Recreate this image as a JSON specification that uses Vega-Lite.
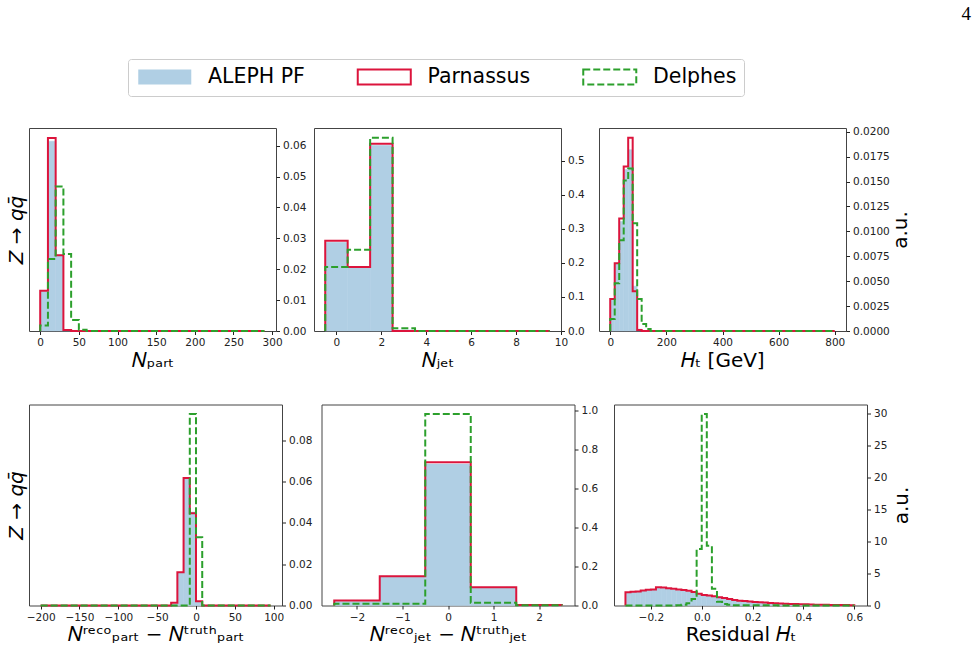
{
"$schema": "https://vega.github.io/schema/vega-lite/v6.json",
"background": "white",
"padding": {"left": 5, "top": 4, "right": 2, "bottom": 5},
"title": {"text": "4", "anchor": "end", "frame": "group", "font": "Liberation Serif", "fontSize": 19, "fontWeight": "normal", "color": "#000", "dx": 942, "offset": 35},
"datasets": {
"bars": [
{"p":1,"x":0,"x2":10,"y":0.0128},{"p":1,"x":10,"x2":20,"y":0.0614},{"p":1,"x":20,"x2":30,"y":0.0246},{"p":1,"x":30,"x2":40,"y":0.0003},
{"p":2,"x":-0.5,"x2":0.5,"y":0.26},{"p":2,"x":0.5,"x2":1.5,"y":0.188},{"p":2,"x":1.5,"x2":2.5,"y":0.545},{"p":2,"x":2.5,"x2":3.5,"y":0.003},
{"p":3,"x":0,"x2":16,"y":0.0031},{"p":3,"x":16,"x2":32,"y":0.0068},{"p":3,"x":32,"x2":48,"y":0.011},{"p":3,"x":48,"x2":64,"y":0.0162},{"p":3,"x":64,"x2":80,"y":0.0182},{"p":3,"x":80,"x2":96,"y":0.0045},{"p":3,"x":96,"x2":112,"y":0.0002},
{"p":4,"x":-32,"x2":-24,"y":0.0008},{"p":4,"x":-24,"x2":-16,"y":0.0158},{"p":4,"x":-16,"x2":-8,"y":0.0612},{"p":4,"x":-8,"x2":0,"y":0.0452},{"p":4,"x":0,"x2":8,"y":0.0018},{"p":4,"x":8,"x2":16,"y":0.0001},
{"p":5,"x":-2.5,"x2":-1.5,"y":0.02},{"p":5,"x":-1.5,"x2":-0.5,"y":0.15},{"p":5,"x":-0.5,"x2":0.5,"y":0.726},{"p":5,"x":0.5,"x2":1.5,"y":0.094},{"p":5,"x":1.5,"x2":2.5,"y":0.003},
{"p":6,"x":-0.3,"x2":-0.28,"y":2.0},{"p":6,"x":-0.28,"x2":-0.26,"y":2.1},{"p":6,"x":-0.26,"x2":-0.24,"y":2.15},{"p":6,"x":-0.24,"x2":-0.22,"y":2.3},{"p":6,"x":-0.22,"x2":-0.2,"y":2.4},{"p":6,"x":-0.2,"x2":-0.18,"y":2.45},{"p":6,"x":-0.18,"x2":-0.16,"y":2.72},{"p":6,"x":-0.16,"x2":-0.14,"y":2.68},{"p":6,"x":-0.14,"x2":-0.12,"y":2.58},{"p":6,"x":-0.12,"x2":-0.1,"y":2.45},{"p":6,"x":-0.1,"x2":-0.08,"y":2.35},{"p":6,"x":-0.08,"x2":-0.06,"y":2.25},{"p":6,"x":-0.06,"x2":-0.04,"y":2.15},{"p":6,"x":-0.04,"x2":-0.02,"y":2.0},{"p":6,"x":-0.02,"x2":0,"y":1.8},{"p":6,"x":0,"x2":0.02,"y":1.65},{"p":6,"x":0.02,"x2":0.04,"y":1.55},{"p":6,"x":0.04,"x2":0.06,"y":1.45},{"p":6,"x":0.06,"x2":0.08,"y":1.3},{"p":6,"x":0.08,"x2":0.1,"y":1.15},{"p":6,"x":0.1,"x2":0.12,"y":1.0},{"p":6,"x":0.12,"x2":0.14,"y":0.88},{"p":6,"x":0.14,"x2":0.16,"y":0.78},{"p":6,"x":0.16,"x2":0.18,"y":0.72},{"p":6,"x":0.18,"x2":0.2,"y":0.64},{"p":6,"x":0.2,"x2":0.22,"y":0.57},{"p":6,"x":0.22,"x2":0.24,"y":0.51},{"p":6,"x":0.24,"x2":0.26,"y":0.46},{"p":6,"x":0.26,"x2":0.28,"y":0.41},{"p":6,"x":0.28,"x2":0.3,"y":0.36},{"p":6,"x":0.3,"x2":0.32,"y":0.33},{"p":6,"x":0.32,"x2":0.34,"y":0.29},{"p":6,"x":0.34,"x2":0.36,"y":0.26},{"p":6,"x":0.36,"x2":0.38,"y":0.23},{"p":6,"x":0.38,"x2":0.4,"y":0.21},{"p":6,"x":0.4,"x2":0.42,"y":0.18},{"p":6,"x":0.42,"x2":0.44,"y":0.16},{"p":6,"x":0.44,"x2":0.46,"y":0.14},{"p":6,"x":0.46,"x2":0.48,"y":0.12},{"p":6,"x":0.48,"x2":0.5,"y":0.1},{"p":6,"x":0.5,"x2":0.52,"y":0.09},{"p":6,"x":0.52,"x2":0.54,"y":0.08},{"p":6,"x":0.54,"x2":0.56,"y":0.07},{"p":6,"x":0.56,"x2":0.58,"y":0.06},{"p":6,"x":0.58,"x2":0.6,"y":0.05}
],
"lines": [
{"p":1,"s":"Parnassus","x":0,"y":0},{"p":1,"s":"Parnassus","x":0,"y":0.013},{"p":1,"s":"Parnassus","x":10,"y":0.0625},{"p":1,"s":"Parnassus","x":20,"y":0.0245},{"p":1,"s":"Parnassus","x":30,"y":0.0003},{"p":1,"s":"Parnassus","x":40,"y":0},{"p":1,"s":"Parnassus","x":290,"y":0},
{"p":1,"s":"Delphes","x":0,"y":0},{"p":1,"s":"Delphes","x":0,"y":0.0018},{"p":1,"s":"Delphes","x":10,"y":0.0233},{"p":1,"s":"Delphes","x":20,"y":0.0468},{"p":1,"s":"Delphes","x":30,"y":0.0249},{"p":1,"s":"Delphes","x":40,"y":0.0036},{"p":1,"s":"Delphes","x":50,"y":0.0004},{"p":1,"s":"Delphes","x":60,"y":0},{"p":1,"s":"Delphes","x":290,"y":0},
{"p":2,"s":"Parnassus","x":-0.5,"y":0},{"p":2,"s":"Parnassus","x":-0.5,"y":0.265},{"p":2,"s":"Parnassus","x":0.5,"y":0.188},{"p":2,"s":"Parnassus","x":1.5,"y":0.549},{"p":2,"s":"Parnassus","x":2.5,"y":0},{"p":2,"s":"Parnassus","x":9.5,"y":0},
{"p":2,"s":"Delphes","x":-0.5,"y":0},{"p":2,"s":"Delphes","x":-0.5,"y":0.188},{"p":2,"s":"Delphes","x":0.5,"y":0.238},{"p":2,"s":"Delphes","x":1.5,"y":0.567},{"p":2,"s":"Delphes","x":2.5,"y":0.008},{"p":2,"s":"Delphes","x":3.5,"y":0},{"p":2,"s":"Delphes","x":9.5,"y":0},
{"p":3,"s":"Parnassus","x":0,"y":0},{"p":3,"s":"Parnassus","x":0,"y":0.0032},{"p":3,"s":"Parnassus","x":16,"y":0.0068},{"p":3,"s":"Parnassus","x":32,"y":0.0113},{"p":3,"s":"Parnassus","x":48,"y":0.0165},{"p":3,"s":"Parnassus","x":64,"y":0.0194},{"p":3,"s":"Parnassus","x":80,"y":0.004},{"p":3,"s":"Parnassus","x":96,"y":0.0001},{"p":3,"s":"Parnassus","x":112,"y":0},{"p":3,"s":"Parnassus","x":800,"y":0},
{"p":3,"s":"Delphes","x":0,"y":0},{"p":3,"s":"Delphes","x":0,"y":0.0012},{"p":3,"s":"Delphes","x":16,"y":0.0048},{"p":3,"s":"Delphes","x":32,"y":0.0091},{"p":3,"s":"Delphes","x":48,"y":0.0151},{"p":3,"s":"Delphes","x":64,"y":0.0163},{"p":3,"s":"Delphes","x":80,"y":0.0108},{"p":3,"s":"Delphes","x":96,"y":0.0032},{"p":3,"s":"Delphes","x":112,"y":0.0007},{"p":3,"s":"Delphes","x":128,"y":0.0002},{"p":3,"s":"Delphes","x":144,"y":0},{"p":3,"s":"Delphes","x":800,"y":0},
{"p":4,"s":"Parnassus","x":-200,"y":0},{"p":4,"s":"Parnassus","x":-32,"y":0.0013},{"p":4,"s":"Parnassus","x":-24,"y":0.0161},{"p":4,"s":"Parnassus","x":-16,"y":0.0617},{"p":4,"s":"Parnassus","x":-8,"y":0.0446},{"p":4,"s":"Parnassus","x":0,"y":0.0021},{"p":4,"s":"Parnassus","x":8,"y":0},{"p":4,"s":"Parnassus","x":96,"y":0},
{"p":4,"s":"Delphes","x":-200,"y":0},{"p":4,"s":"Delphes","x":-8,"y":0.0926},{"p":4,"s":"Delphes","x":0,"y":0.033},{"p":4,"s":"Delphes","x":8,"y":0},{"p":4,"s":"Delphes","x":96,"y":0},
{"p":5,"s":"Parnassus","x":-2.5,"y":0},{"p":5,"s":"Parnassus","x":-2.5,"y":0.0256},{"p":5,"s":"Parnassus","x":-1.5,"y":0.15},{"p":5,"s":"Parnassus","x":-0.5,"y":0.735},{"p":5,"s":"Parnassus","x":0.5,"y":0.094},{"p":5,"s":"Parnassus","x":1.5,"y":0.003},{"p":5,"s":"Parnassus","x":2.5,"y":0.003},{"p":5,"s":"Parnassus","x":2.5,"y":0},
{"p":5,"s":"Delphes","x":-2.5,"y":0},{"p":5,"s":"Delphes","x":-2.5,"y":0.009},{"p":5,"s":"Delphes","x":-1.5,"y":0.009},{"p":5,"s":"Delphes","x":-0.5,"y":0.983},{"p":5,"s":"Delphes","x":0.5,"y":0.014},{"p":5,"s":"Delphes","x":1.5,"y":0.001},{"p":5,"s":"Delphes","x":2.5,"y":0.001},{"p":5,"s":"Delphes","x":2.5,"y":0},
{"p":6,"s":"Parnassus","x":-0.3,"y":0},{"p":6,"s":"Parnassus","x":-0.3,"y":2.05},{"p":6,"s":"Parnassus","x":-0.28,"y":2.15},{"p":6,"s":"Parnassus","x":-0.26,"y":2.2},{"p":6,"s":"Parnassus","x":-0.24,"y":2.35},{"p":6,"s":"Parnassus","x":-0.22,"y":2.45},{"p":6,"s":"Parnassus","x":-0.2,"y":2.5},{"p":6,"s":"Parnassus","x":-0.18,"y":2.85},{"p":6,"s":"Parnassus","x":-0.16,"y":2.8},{"p":6,"s":"Parnassus","x":-0.14,"y":2.7},{"p":6,"s":"Parnassus","x":-0.12,"y":2.6},{"p":6,"s":"Parnassus","x":-0.1,"y":2.5},{"p":6,"s":"Parnassus","x":-0.08,"y":2.42},{"p":6,"s":"Parnassus","x":-0.06,"y":2.3},{"p":6,"s":"Parnassus","x":-0.04,"y":2.1},{"p":6,"s":"Parnassus","x":-0.02,"y":1.85},{"p":6,"s":"Parnassus","x":0,"y":1.65},{"p":6,"s":"Parnassus","x":0.02,"y":1.55},{"p":6,"s":"Parnassus","x":0.04,"y":1.45},{"p":6,"s":"Parnassus","x":0.06,"y":1.3},{"p":6,"s":"Parnassus","x":0.08,"y":1.15},{"p":6,"s":"Parnassus","x":0.1,"y":1.0},{"p":6,"s":"Parnassus","x":0.12,"y":0.85},{"p":6,"s":"Parnassus","x":0.14,"y":0.75},{"p":6,"s":"Parnassus","x":0.16,"y":0.7},{"p":6,"s":"Parnassus","x":0.18,"y":0.62},{"p":6,"s":"Parnassus","x":0.2,"y":0.55},{"p":6,"s":"Parnassus","x":0.22,"y":0.5},{"p":6,"s":"Parnassus","x":0.24,"y":0.45},{"p":6,"s":"Parnassus","x":0.26,"y":0.4},{"p":6,"s":"Parnassus","x":0.28,"y":0.35},{"p":6,"s":"Parnassus","x":0.3,"y":0.32},{"p":6,"s":"Parnassus","x":0.32,"y":0.28},{"p":6,"s":"Parnassus","x":0.34,"y":0.25},{"p":6,"s":"Parnassus","x":0.36,"y":0.22},{"p":6,"s":"Parnassus","x":0.38,"y":0.2},{"p":6,"s":"Parnassus","x":0.4,"y":0.18},{"p":6,"s":"Parnassus","x":0.42,"y":0.15},{"p":6,"s":"Parnassus","x":0.44,"y":0.13},{"p":6,"s":"Parnassus","x":0.46,"y":0.12},{"p":6,"s":"Parnassus","x":0.48,"y":0.1},{"p":6,"s":"Parnassus","x":0.5,"y":0.09},{"p":6,"s":"Parnassus","x":0.52,"y":0.08},{"p":6,"s":"Parnassus","x":0.54,"y":0.07},{"p":6,"s":"Parnassus","x":0.56,"y":0.06},{"p":6,"s":"Parnassus","x":0.58,"y":0.05},{"p":6,"s":"Parnassus","x":0.6,"y":0.05},{"p":6,"s":"Parnassus","x":0.6,"y":0},
{"p":6,"s":"Delphes","x":-0.3,"y":0},{"p":6,"s":"Delphes","x":-0.1,"y":0.05},{"p":6,"s":"Delphes","x":-0.08,"y":0.1},{"p":6,"s":"Delphes","x":-0.06,"y":0.35},{"p":6,"s":"Delphes","x":-0.04,"y":1.0},{"p":6,"s":"Delphes","x":-0.02,"y":8.8},{"p":6,"s":"Delphes","x":0,"y":29.85},{"p":6,"s":"Delphes","x":0.02,"y":9.3},{"p":6,"s":"Delphes","x":0.04,"y":2.6},{"p":6,"s":"Delphes","x":0.06,"y":0.6},{"p":6,"s":"Delphes","x":0.08,"y":0.25},{"p":6,"s":"Delphes","x":0.1,"y":0.1},{"p":6,"s":"Delphes","x":0.12,"y":0.05},{"p":6,"s":"Delphes","x":0.14,"y":0.02},{"p":6,"s":"Delphes","x":0.3,"y":0},{"p":6,"s":"Delphes","x":0.6,"y":0}
]
},
"spacing": 32.5,
"vconcat": [
{"spacing": 6, "hconcat": [
{"width": 247, "height": 203, "resolve": {"axis": {"y": "independent"}}, "layer": [
{"data": {"name": "bars"}, "transform": [{"filter": "datum.p == 1"}], "mark": {"type": "rect", "stroke": "#b0cfe4", "strokeWidth": 0.5},
 "encoding": {
  "x": {"field": "x", "type": "quantitative", "scale": {"domain": [-14.5, 305], "nice": false, "zero": false}, "axis": {"values": [0,50,100,150,200,250,300], "title": "𝑁ₚₐᵣₜ"}},
  "x2": {"field": "x2"},
  "y": {"field": "y", "type": "quantitative", "scale": {"domain": [0, 0.0657], "nice": false}, "axis": {"orient": "right", "values": [0,0.01,0.02,0.03,0.04,0.05,0.06], "format": ".2f", "title": null, "minExtent": 30, "maxExtent": 30}},
  "y2": {"datum": 0},
  "fill": {"datum": "ALEPH PF", "type": "nominal", "scale": {"domain": ["ALEPH PF", "Parnassus", "Delphes"], "range": ["#b0cfe4", "transparent", "transparent"]},
   "legend": {"orient": "none", "legendX": 99, "legendY": -69, "direction": "horizontal", "title": null, "symbolType": "M-1,-1H6.07V1H-1Z", "symbolSize": 225, "symbolStrokeWidth": 2, "labelFont": "DejaVu Sans", "labelFontSize": 20.5, "labelColor": "#000", "labelOffset": 52, "labelLimit": 400, "columnPadding": 47.5, "padding": 7.5, "strokeColor": "#cccccc", "fillColor": "#ffffff", "cornerRadius": 3}}
 }},
{"data": {"name": "lines"}, "transform": [{"filter": "datum.p == 1 && datum.s == 'Parnassus'"}], "mark": {"type": "line", "interpolate": "step-after", "strokeWidth": 2},
 "encoding": {
  "x": {"field": "x", "type": "quantitative", "scale": {"domain": [-14.5, 305], "nice": false, "zero": false}},
  "y": {"field": "y", "type": "quantitative", "scale": {"domain": [0, 0.0657], "nice": false}, "axis": {"orient": "left", "title": "Z → qq̄", "titleFontStyle": "italic", "labels": false, "ticks": false, "domain": false, "minExtent": 0, "maxExtent": 0, "titlePadding": 3}},
  "stroke": {"datum": "Parnassus", "type": "nominal", "scale": {"domain": ["ALEPH PF", "Parnassus", "Delphes"], "range": ["transparent", "#dc143c", "#2ca02c"]},
   "legend": {"orient": "none", "legendX": 99, "legendY": -69, "direction": "horizontal", "title": null, "symbolType": "M-1,-1H6.07V1H-1Z", "symbolSize": 225, "symbolStrokeWidth": 2, "labelFont": "DejaVu Sans", "labelFontSize": 20.5, "labelColor": "#000", "labelOffset": 52, "labelLimit": 400, "columnPadding": 47.5, "padding": 7.5, "strokeColor": "#cccccc", "fillColor": "#ffffff", "cornerRadius": 3}},
  "strokeDash": {"datum": "Parnassus", "type": "nominal", "scale": {"domain": ["ALEPH PF", "Parnassus", "Delphes"], "range": [[1,0],[1,0],[7,3]]},
   "legend": {"orient": "none", "legendX": 99, "legendY": -69, "direction": "horizontal", "title": null, "symbolType": "M-1,-1H6.07V1H-1Z", "symbolSize": 225, "symbolStrokeWidth": 2, "labelFont": "DejaVu Sans", "labelFontSize": 20.5, "labelColor": "#000", "labelOffset": 52, "labelLimit": 400, "columnPadding": 47.5, "padding": 7.5, "strokeColor": "#cccccc", "fillColor": "#ffffff", "cornerRadius": 3}},
  "order": {"value": null}
 }},
{"data": {"name": "lines"}, "transform": [{"filter": "datum.p == 1 && datum.s == 'Delphes'"}], "mark": {"type": "line", "interpolate": "step-after", "strokeWidth": 2},
 "encoding": {
  "x": {"field": "x", "type": "quantitative", "scale": {"domain": [-14.5, 305], "nice": false, "zero": false}},
  "y": {"field": "y", "type": "quantitative", "scale": {"domain": [0, 0.0657], "nice": false}, "axis": null},
  "stroke": {"datum": "Delphes", "type": "nominal", "scale": {"domain": ["ALEPH PF", "Parnassus", "Delphes"], "range": ["transparent", "#dc143c", "#2ca02c"]}},
  "strokeDash": {"datum": "Delphes", "type": "nominal", "scale": {"domain": ["ALEPH PF", "Parnassus", "Delphes"], "range": [[1,0],[1,0],[7,3]]}},
  "order": {"value": null}
 }}
]},
{"width": 247, "height": 203, "resolve": {"axis": {"y": "independent"}}, "layer": [
{"data": {"name": "bars"}, "transform": [{"filter": "datum.p == 2"}], "mark": {"type": "rect", "stroke": "#b0cfe4", "strokeWidth": 0.5},
 "encoding": {
  "x": {"field": "x", "type": "quantitative", "scale": {"domain": [-1, 10], "nice": false, "zero": false}, "axis": {"values": [0,2,4,6,8,10], "title": "𝑁ⱼₑₜ"}},
  "x2": {"field": "x2"},
  "y": {"field": "y", "type": "quantitative", "scale": {"domain": [0, 0.5954], "nice": false}, "axis": {"orient": "right", "values": [0,0.1,0.2,0.3,0.4,0.5], "format": ".1f", "title": null, "minExtent": 30, "maxExtent": 30}},
  "y2": {"datum": 0},
  "fill": {"datum": "ALEPH PF", "type": "nominal", "scale": {"domain": ["ALEPH PF", "Parnassus", "Delphes"], "range": ["#b0cfe4", "transparent", "transparent"]}}
 }},
{"data": {"name": "lines"}, "transform": [{"filter": "datum.p == 2 && datum.s == 'Parnassus'"}], "mark": {"type": "line", "interpolate": "step-after", "strokeWidth": 2},
 "encoding": {
  "x": {"field": "x", "type": "quantitative", "scale": {"domain": [-1, 10], "nice": false, "zero": false}},
  "y": {"field": "y", "type": "quantitative", "scale": {"domain": [0, 0.5954], "nice": false}, "axis": null},
  "stroke": {"datum": "Parnassus", "type": "nominal", "scale": {"domain": ["ALEPH PF", "Parnassus", "Delphes"], "range": ["transparent", "#dc143c", "#2ca02c"]}},
  "strokeDash": {"datum": "Parnassus", "type": "nominal", "scale": {"domain": ["ALEPH PF", "Parnassus", "Delphes"], "range": [[1,0],[1,0],[7,3]]}},
  "order": {"value": null}
 }},
{"data": {"name": "lines"}, "transform": [{"filter": "datum.p == 2 && datum.s == 'Delphes'"}], "mark": {"type": "line", "interpolate": "step-after", "strokeWidth": 2},
 "encoding": {
  "x": {"field": "x", "type": "quantitative", "scale": {"domain": [-1, 10], "nice": false, "zero": false}},
  "y": {"field": "y", "type": "quantitative", "scale": {"domain": [0, 0.5954], "nice": false}, "axis": null},
  "stroke": {"datum": "Delphes", "type": "nominal", "scale": {"domain": ["ALEPH PF", "Parnassus", "Delphes"], "range": ["transparent", "#dc143c", "#2ca02c"]}},
  "strokeDash": {"datum": "Delphes", "type": "nominal", "scale": {"domain": ["ALEPH PF", "Parnassus", "Delphes"], "range": [[1,0],[1,0],[7,3]]}},
  "order": {"value": null}
 }}
]},
{"width": 247, "height": 203, "resolve": {"axis": {"y": "independent"}}, "layer": [
{"data": {"name": "bars"}, "transform": [{"filter": "datum.p == 3"}], "mark": {"type": "rect", "stroke": "#b0cfe4", "strokeWidth": 0.5},
 "encoding": {
  "x": {"field": "x", "type": "quantitative", "scale": {"domain": [-40, 840], "nice": false, "zero": false}, "axis": {"values": [0,200,400,600,800], "title": "𝐻ₜ [GeV]"}},
  "x2": {"field": "x2"},
  "y": {"field": "y", "type": "quantitative", "scale": {"domain": [0, 0.02037], "nice": false}, "axis": {"orient": "right", "values": [0,0.0025,0.005,0.0075,0.01,0.0125,0.015,0.0175,0.02], "format": ".4f", "title": "a.u.", "titleAngle": 270, "titleBaseline": "top", "titlePadding": 4, "minExtent": 40, "maxExtent": 40}},
  "y2": {"datum": 0},
  "fill": {"datum": "ALEPH PF", "type": "nominal", "scale": {"domain": ["ALEPH PF", "Parnassus", "Delphes"], "range": ["#b0cfe4", "transparent", "transparent"]}}
 }},
{"data": {"name": "lines"}, "transform": [{"filter": "datum.p == 3 && datum.s == 'Parnassus'"}], "mark": {"type": "line", "interpolate": "step-after", "strokeWidth": 2},
 "encoding": {
  "x": {"field": "x", "type": "quantitative", "scale": {"domain": [-40, 840], "nice": false, "zero": false}},
  "y": {"field": "y", "type": "quantitative", "scale": {"domain": [0, 0.02037], "nice": false}, "axis": null},
  "stroke": {"datum": "Parnassus", "type": "nominal", "scale": {"domain": ["ALEPH PF", "Parnassus", "Delphes"], "range": ["transparent", "#dc143c", "#2ca02c"]}},
  "strokeDash": {"datum": "Parnassus", "type": "nominal", "scale": {"domain": ["ALEPH PF", "Parnassus", "Delphes"], "range": [[1,0],[1,0],[7,3]]}},
  "order": {"value": null}
 }},
{"data": {"name": "lines"}, "transform": [{"filter": "datum.p == 3 && datum.s == 'Delphes'"}], "mark": {"type": "line", "interpolate": "step-after", "strokeWidth": 2},
 "encoding": {
  "x": {"field": "x", "type": "quantitative", "scale": {"domain": [-40, 840], "nice": false, "zero": false}},
  "y": {"field": "y", "type": "quantitative", "scale": {"domain": [0, 0.02037], "nice": false}, "axis": null},
  "stroke": {"datum": "Delphes", "type": "nominal", "scale": {"domain": ["ALEPH PF", "Parnassus", "Delphes"], "range": ["transparent", "#dc143c", "#2ca02c"]}},
  "strokeDash": {"datum": "Delphes", "type": "nominal", "scale": {"domain": ["ALEPH PF", "Parnassus", "Delphes"], "range": [[1,0],[1,0],[7,3]]}},
  "order": {"value": null}
 }}
]}
]},
{"spacing": 7.5, "hconcat": [
{"width": 253, "height": 201, "resolve": {"axis": {"y": "independent"}}, "layer": [
{"data": {"name": "bars"}, "transform": [{"filter": "datum.p == 4"}], "mark": {"type": "rect", "stroke": "#b0cfe4", "strokeWidth": 0.5},
 "encoding": {
  "x": {"field": "x", "type": "quantitative", "scale": {"domain": [-215, 110.7], "nice": false, "zero": false}, "axis": {"values": [-200,-150,-100,-50,0,50,100], "title": "𝑁ʳᵉᶜᵒₚₐᵣₜ − 𝑁ᵗʳᵘᵗʰₚₐᵣₜ"}},
  "x2": {"field": "x2"},
  "y": {"field": "y", "type": "quantitative", "scale": {"domain": [0, 0.0972], "nice": false}, "axis": {"orient": "right", "values": [0,0.02,0.04,0.06,0.08], "format": ".2f", "title": null, "minExtent": 30, "maxExtent": 30}},
  "y2": {"datum": 0},
  "fill": {"datum": "ALEPH PF", "type": "nominal", "scale": {"domain": ["ALEPH PF", "Parnassus", "Delphes"], "range": ["#b0cfe4", "transparent", "transparent"]}}
 }},
{"data": {"name": "lines"}, "transform": [{"filter": "datum.p == 4 && datum.s == 'Parnassus'"}], "mark": {"type": "line", "interpolate": "step-after", "strokeWidth": 2},
 "encoding": {
  "x": {"field": "x", "type": "quantitative", "scale": {"domain": [-215, 110.7], "nice": false, "zero": false}},
  "y": {"field": "y", "type": "quantitative", "scale": {"domain": [0, 0.0972], "nice": false}, "axis": {"orient": "left", "title": "Z → qq̄", "titleFontStyle": "italic", "labels": false, "ticks": false, "domain": false, "minExtent": 0, "maxExtent": 0, "titlePadding": 3}},
  "stroke": {"datum": "Parnassus", "type": "nominal", "scale": {"domain": ["ALEPH PF", "Parnassus", "Delphes"], "range": ["transparent", "#dc143c", "#2ca02c"]}},
  "strokeDash": {"datum": "Parnassus", "type": "nominal", "scale": {"domain": ["ALEPH PF", "Parnassus", "Delphes"], "range": [[1,0],[1,0],[7,3]]}},
  "order": {"value": null}
 }},
{"data": {"name": "lines"}, "transform": [{"filter": "datum.p == 4 && datum.s == 'Delphes'"}], "mark": {"type": "line", "interpolate": "step-after", "strokeWidth": 2},
 "encoding": {
  "x": {"field": "x", "type": "quantitative", "scale": {"domain": [-215, 110.7], "nice": false, "zero": false}},
  "y": {"field": "y", "type": "quantitative", "scale": {"domain": [0, 0.0972], "nice": false}, "axis": null},
  "stroke": {"datum": "Delphes", "type": "nominal", "scale": {"domain": ["ALEPH PF", "Parnassus", "Delphes"], "range": ["transparent", "#dc143c", "#2ca02c"]}},
  "strokeDash": {"datum": "Delphes", "type": "nominal", "scale": {"domain": ["ALEPH PF", "Parnassus", "Delphes"], "range": [[1,0],[1,0],[7,3]]}},
  "order": {"value": null}
 }}
]},
{"width": 253, "height": 201, "resolve": {"axis": {"y": "independent"}}, "layer": [
{"data": {"name": "bars"}, "transform": [{"filter": "datum.p == 5"}], "mark": {"type": "rect", "stroke": "#b0cfe4", "strokeWidth": 0.5},
 "encoding": {
  "x": {"field": "x", "type": "quantitative", "scale": {"domain": [-2.78, 2.78], "nice": false, "zero": false}, "axis": {"values": [-2,-1,0,1,2], "title": "𝑁ʳᵉᶜᵒⱼₑₜ − 𝑁ᵗʳᵘᵗʰⱼₑₜ"}},
  "x2": {"field": "x2"},
  "y": {"field": "y", "type": "quantitative", "scale": {"domain": [0, 1.032], "nice": false}, "axis": {"orient": "right", "values": [0,0.2,0.4,0.6,0.8,1.0], "format": ".1f", "title": null, "minExtent": 30, "maxExtent": 30}},
  "y2": {"datum": 0},
  "fill": {"datum": "ALEPH PF", "type": "nominal", "scale": {"domain": ["ALEPH PF", "Parnassus", "Delphes"], "range": ["#b0cfe4", "transparent", "transparent"]}}
 }},
{"data": {"name": "lines"}, "transform": [{"filter": "datum.p == 5 && datum.s == 'Parnassus'"}], "mark": {"type": "line", "interpolate": "step-after", "strokeWidth": 2},
 "encoding": {
  "x": {"field": "x", "type": "quantitative", "scale": {"domain": [-2.78, 2.78], "nice": false, "zero": false}},
  "y": {"field": "y", "type": "quantitative", "scale": {"domain": [0, 1.032], "nice": false}, "axis": null},
  "stroke": {"datum": "Parnassus", "type": "nominal", "scale": {"domain": ["ALEPH PF", "Parnassus", "Delphes"], "range": ["transparent", "#dc143c", "#2ca02c"]}},
  "strokeDash": {"datum": "Parnassus", "type": "nominal", "scale": {"domain": ["ALEPH PF", "Parnassus", "Delphes"], "range": [[1,0],[1,0],[7,3]]}},
  "order": {"value": null}
 }},
{"data": {"name": "lines"}, "transform": [{"filter": "datum.p == 5 && datum.s == 'Delphes'"}], "mark": {"type": "line", "interpolate": "step-after", "strokeWidth": 2},
 "encoding": {
  "x": {"field": "x", "type": "quantitative", "scale": {"domain": [-2.78, 2.78], "nice": false, "zero": false}},
  "y": {"field": "y", "type": "quantitative", "scale": {"domain": [0, 1.032], "nice": false}, "axis": null},
  "stroke": {"datum": "Delphes", "type": "nominal", "scale": {"domain": ["ALEPH PF", "Parnassus", "Delphes"], "range": ["transparent", "#dc143c", "#2ca02c"]}},
  "strokeDash": {"datum": "Delphes", "type": "nominal", "scale": {"domain": ["ALEPH PF", "Parnassus", "Delphes"], "range": [[1,0],[1,0],[7,3]]}},
  "order": {"value": null}
 }}
]},
{"width": 253, "height": 201, "resolve": {"axis": {"y": "independent"}}, "layer": [
{"data": {"name": "bars"}, "transform": [{"filter": "datum.p == 6"}], "mark": {"type": "rect", "stroke": "#b0cfe4", "strokeWidth": 0.5},
 "encoding": {
  "x": {"field": "x", "type": "quantitative", "scale": {"domain": [-0.345, 0.65], "nice": false, "zero": false}, "axis": {"values": [-0.2,0,0.2,0.4,0.6], "format": ".1f", "title": "Residual 𝐻ₜ"}},
  "x2": {"field": "x2"},
  "y": {"field": "y", "type": "quantitative", "scale": {"domain": [0, 31.34], "nice": false}, "axis": {"orient": "right", "values": [0,5,10,15,20,25,30], "format": "d", "title": "a.u.", "titleAngle": 270, "titleBaseline": "top", "titlePadding": 4, "minExtent": 20, "maxExtent": 20}},
  "y2": {"datum": 0},
  "fill": {"datum": "ALEPH PF", "type": "nominal", "scale": {"domain": ["ALEPH PF", "Parnassus", "Delphes"], "range": ["#b0cfe4", "transparent", "transparent"]}}
 }},
{"data": {"name": "lines"}, "transform": [{"filter": "datum.p == 6 && datum.s == 'Parnassus'"}], "mark": {"type": "line", "interpolate": "step-after", "strokeWidth": 2},
 "encoding": {
  "x": {"field": "x", "type": "quantitative", "scale": {"domain": [-0.345, 0.65], "nice": false, "zero": false}},
  "y": {"field": "y", "type": "quantitative", "scale": {"domain": [0, 31.34], "nice": false}, "axis": null},
  "stroke": {"datum": "Parnassus", "type": "nominal", "scale": {"domain": ["ALEPH PF", "Parnassus", "Delphes"], "range": ["transparent", "#dc143c", "#2ca02c"]}},
  "strokeDash": {"datum": "Parnassus", "type": "nominal", "scale": {"domain": ["ALEPH PF", "Parnassus", "Delphes"], "range": [[1,0],[1,0],[7,3]]}},
  "order": {"value": null}
 }},
{"data": {"name": "lines"}, "transform": [{"filter": "datum.p == 6 && datum.s == 'Delphes'"}], "mark": {"type": "line", "interpolate": "step-after", "strokeWidth": 2},
 "encoding": {
  "x": {"field": "x", "type": "quantitative", "scale": {"domain": [-0.345, 0.65], "nice": false, "zero": false}},
  "y": {"field": "y", "type": "quantitative", "scale": {"domain": [0, 31.34], "nice": false}, "axis": null},
  "stroke": {"datum": "Delphes", "type": "nominal", "scale": {"domain": ["ALEPH PF", "Parnassus", "Delphes"], "range": ["transparent", "#dc143c", "#2ca02c"]}},
  "strokeDash": {"datum": "Delphes", "type": "nominal", "scale": {"domain": ["ALEPH PF", "Parnassus", "Delphes"], "range": [[1,0],[1,0],[7,3]]}},
  "order": {"value": null}
 }}
]}
]}
],
"config": {
 "font": "DejaVu Sans",
 "view": {"stroke": "#444444", "strokeWidth": 1},
 "axis": {"grid": false, "domain": false, "labelFont": "DejaVu Sans", "labelFontSize": 10.5, "labelColor": "#222222", "tickColor": "#222222", "tickSize": 3.5, "tickWidth": 1, "labelPadding": 3, "labelFlush": false, "labelOverlap": false, "titleFont": "DejaVu Sans", "titleFontSize": 20, "titleFontWeight": "normal", "titleColor": "#000000"},
 "axisX": {"titlePadding": 2}
}
}
